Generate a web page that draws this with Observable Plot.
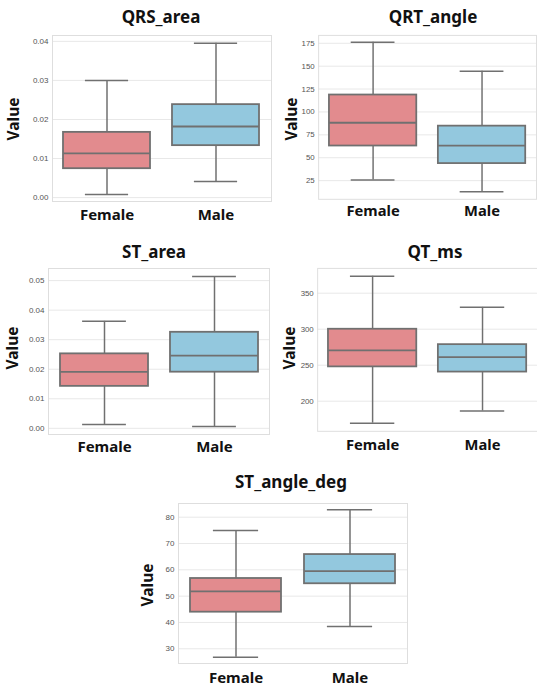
<!DOCTYPE html>
<html>
<head>
<meta charset="utf-8">
<script src="https://cdn.jsdelivr.net/npm/d3@7"></script>
<script src="https://cdn.jsdelivr.net/npm/@observablehq/plot@0.6"></script>
<style>
  html, body { margin: 0; padding: 0; background: #fff; }
  #page { position: relative; width: 537px; height: 688px; overflow: hidden; background: #fff; }
  .panel { position: absolute; }
  #overlay { position: absolute; left: 0; top: 0; pointer-events: none; }
  #overlay text { font-family: "Noto Sans", sans-serif; font-weight: bold; fill: #111; }
</style>
</head>
<body>
<div id="page"></div>
<script>
// ---- data ----
const sexes = ["Female", "Male"];
const sexColors = ["#e28b8e", "#93c8de"];
const statKeys = ["low", "q1", "med", "q3", "high"];

const metrics = ["QRS_area", "QRT_angle", "ST_area", "QT_ms", "ST_angle_deg"];

// [whisker low, Q1, median, Q3, whisker high]
const qrsAreaFemale = [0.0008, 0.0074, 0.0113, 0.0167, 0.0300];
const qrsAreaMale   = [0.0041, 0.0133, 0.0182, 0.0238, 0.0395];
const qrtAngleFemale = [25.7, 62.8, 88.2, 118.5, 176.0];
const qrtAngleMale   = [12.9, 43.6, 63.2, 84.5, 144.5];
const stAreaFemale = [0.0013, 0.0142, 0.0191, 0.0252, 0.0362];
const stAreaMale   = [0.0006, 0.0190, 0.0246, 0.0325, 0.0514];
const qtMsFemale = [169.5, 247.7, 270.5, 300.0, 373.6];
const qtMsMale   = [186.4, 240.5, 261.4, 278.6, 330.4];
const stAngleFemale = [26.8, 43.9, 51.8, 56.7, 74.9];
const stAngleMale   = [38.5, 54.7, 59.5, 65.8, 82.8];

const qrsAreaTicks = [0, 0.01, 0.02, 0.03, 0.04];
const qrtAngleTicks = [25, 50, 75, 100, 125, 150, 175];
const stAreaTicks = [0, 0.01, 0.02, 0.03, 0.04, 0.05];
const qtMsTicks = [200, 250, 300, 350];
const stAngleTicks = [30, 40, 50, 60, 70, 80];

const seriesBy = {
  QRS_area: [qrsAreaFemale, qrsAreaMale],
  QRT_angle: [qrtAngleFemale, qrtAngleMale],
  ST_area: [stAreaFemale, stAreaMale],
  QT_ms: [qtMsFemale, qtMsMale],
  ST_angle_deg: [stAngleFemale, stAngleMale]
};
const ticksBy = {
  QRS_area: qrsAreaTicks, QRT_angle: qrtAngleTicks, ST_area: stAreaTicks,
  QT_ms: qtMsTicks, ST_angle_deg: stAngleTicks
};

// ---- layout ----
const layout = {
  QRS_area:     {left: 0,   top: 30,  width: 276, height: 200, ml: 52, mr: 5, mt: 5, mb: 29, domain: [-0.0010, 0.0415], fmt: ".2f", xPad: 8,
                 title: [161, 23], ylab: [12.5, 119]},
  QRT_angle:    {left: 272, top: 30,  width: 270, height: 200, ml: 47, mr: 1, mt: 5, mb: 28, domain: [4.6, 183.6], fmt: "d", xPad: 6,
                 title: [433, 23], ylab: [290.5, 119]},
  ST_area:      {left: 0,   top: 263, width: 275, height: 200, ml: 48, mr: 6, mt: 5, mb: 29, domain: [-0.0021, 0.0541], fmt: ".2f", xPad: 7,
                 title: [154, 258], ylab: [11.5, 348]},
  QT_ms:        {left: 272, top: 263, width: 270, height: 200, ml: 46, mr: 0, mt: 5, mb: 29, domain: [158.2, 384.5], fmt: "d", xPad: 8,
                 title: [435, 258], ylab: [288.7, 348]},
  ST_angle_deg: {left: 130, top: 498, width: 282, height: 190, ml: 48, mr: 5, mt: 5, mb: 25, domain: [24.4, 85.2], fmt: "d", xPad: 9,
                 title: [291, 488], ylab: [146.7, 585]}
};

const edge = "#707070";
const page = document.getElementById("page");

for (const m of metrics) {
  const L = layout[m];
  const rows = sexes.map((s, i) => {
    const r = {sex: s};
    statKeys.forEach((k, j) => r[k] = seriesBy[m][i][j]);
    return r;
  });
  const step = (L.width - L.ml - L.mr) / 2;
  const boxW = step * 0.8;
  const capInset = boxW / 4;
  const fmt = d3.format(L.fmt);

  const chart = Plot.plot({
    width: L.width,
    height: L.height,
    marginLeft: L.ml,
    marginRight: L.mr,
    marginTop: L.mt,
    marginBottom: L.mb,
    style: {background: "transparent", overflow: "visible"},
    x: {domain: sexes, paddingInner: 0.2, paddingOuter: 0.1},
    y: {domain: L.domain},
    color: {domain: sexes, range: sexColors},
    marks: [
      Plot.gridY(ticksBy[m], {stroke: "#e8e8e8", strokeOpacity: 1, strokeWidth: 1}),
      Plot.frame({stroke: "#dedede", strokeWidth: 1}),
      Plot.axisY(ticksBy[m], {tickSize: 0, tickPadding: 4, tickFormat: fmt, fontSize: 8,
        fontFamily: "Liberation Sans, Arial, sans-serif", fill: "#555", label: null}),
      Plot.axisX({tickSize: 0, tickPadding: L.xPad, fontSize: 15, fontWeight: "bold",
        fontFamily: "Noto Sans, sans-serif", fill: "#111", label: null}),
      Plot.ruleX(rows, {x: "sex", y1: "low", y2: "q1", stroke: edge, strokeWidth: 1.5}),
      Plot.ruleX(rows, {x: "sex", y1: "q3", y2: "high", stroke: edge, strokeWidth: 1.5}),
      Plot.tickY(rows, {x: "sex", y: "low", stroke: edge, strokeWidth: 1.5, insetLeft: capInset, insetRight: capInset}),
      Plot.tickY(rows, {x: "sex", y: "high", stroke: edge, strokeWidth: 1.5, insetLeft: capInset, insetRight: capInset}),
      Plot.barY(rows, {x: "sex", y1: "q1", y2: "q3", fill: "sex", stroke: edge, strokeWidth: 1.8}),
      Plot.tickY(rows, {x: "sex", y: "med", stroke: edge, strokeWidth: 1.8})
    ]
  });
  const div = document.createElement("div");
  div.className = "panel";
  div.style.left = L.left + "px";
  div.style.top = L.top + "px";
  div.appendChild(chart);
  page.appendChild(div);
}

// titles and y labels as real text
const ns = "http://www.w3.org/2000/svg";
const ov = document.createElementNS(ns, "svg");
ov.setAttribute("id", "overlay");
ov.setAttribute("width", 537);
ov.setAttribute("height", 688);
for (const m of metrics) {
  const L = layout[m];
  const t = document.createElementNS(ns, "text");
  t.setAttribute("x", L.title[0]);
  t.setAttribute("y", L.title[1]);
  t.setAttribute("text-anchor", "middle");
  t.setAttribute("font-size", 17);
  t.textContent = m;
  ov.appendChild(t);
  const v = document.createElementNS(ns, "text");
  v.setAttribute("transform", `translate(${L.ylab[0]},${L.ylab[1]}) rotate(-90)`);
  v.setAttribute("text-anchor", "middle");
  v.setAttribute("dominant-baseline", "central");
  v.setAttribute("font-size", 15.5);
  v.textContent = "Value";
  ov.appendChild(v);
}
page.appendChild(ov);
</script>
</body>
</html>
